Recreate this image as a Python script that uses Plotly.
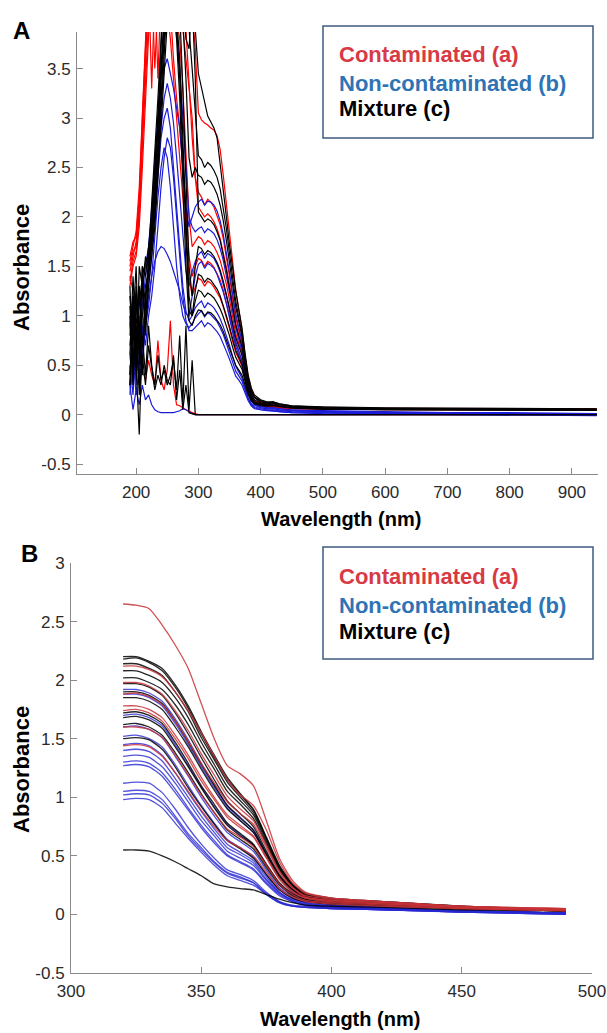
import plotly.graph_objects as go

W, H = 607, 1033

# ---------------- Panel A data ----------------
WL_A = [190, 195, 200, 205, 210, 215, 220, 225, 230, 235, 240, 245, 250, 255, 260, 265, 270, 275, 280, 285, 290, 295,
        300, 305, 310, 315, 320, 325, 330, 335, 340, 345, 350, 355, 360, 365, 370, 375, 380, 385, 390,
        400, 410, 420, 430, 450, 500, 600, 700, 800, 940]

RED_A_1 = [1.55, 1.70, 1.85, 2.30, 3.10, 3.80, 4.50, 4.60, 4.40, 4.50, 4.60, 4.50, 4.40, 4.60, 4.50, 4.50, 4.60, 4.50, 4.40, 4.30, 4.10, 3.70,
           3.05, 2.98, 2.95, 2.93, 2.90, 2.88, 2.82, 2.68, 2.42, 2.12, 1.82, 1.52, 1.26, 1.06, 0.86, 0.60, 0.38, 0.26, 0.18,
           0.12, 0.10, 0.10, 0.09, 0.08, 0.07, 0.065, 0.065, 0.06, 0.06]
RED_A_2 = [1.45, 1.60, 1.75, 2.10, 2.90, 3.60, 4.30, 4.50, 4.10, 4.40, 4.50, 4.60, 4.40, 4.50, 4.50, 4.30, 4.40, 4.20, 3.90, 3.30, 2.80, 2.40,
           2.25, 2.20, 2.12, 2.18, 2.15, 2.10, 2.02, 1.92, 1.78, 1.60, 1.40, 1.18, 0.98, 0.85, 0.72, 0.50, 0.30, 0.19, 0.14,
           0.11, 0.09, 0.09, 0.08, 0.07, 0.065, 0.06, 0.06, 0.06, 0.055]
RED_A_3 = [1.35, 1.55, 1.65, 2.00, 2.70, 3.40, 4.00, 4.40, 3.50, 4.20, 4.40, 4.50, 4.30, 4.40, 4.20, 4.00, 3.80, 3.30, 2.60, 2.00, 1.70, 1.75,
           1.80, 1.78, 1.72, 1.76, 1.74, 1.70, 1.64, 1.56, 1.45, 1.32, 1.16, 0.98, 0.82, 0.72, 0.62, 0.44, 0.27, 0.17, 0.12,
           0.10, 0.08, 0.08, 0.07, 0.065, 0.06, 0.055, 0.055, 0.05, 0.05]
RED_A_4 = [1.60, 1.75, 1.80, 2.20, 3.00, 3.70, 4.40, 3.30, 4.30, 4.50, 4.40, 4.30, 4.20, 4.10, 3.60, 3.20, 2.90, 2.50, 2.10, 1.60, 1.40, 1.50,
           1.58, 1.56, 1.50, 1.55, 1.53, 1.49, 1.43, 1.36, 1.26, 1.14, 1.00, 0.85, 0.72, 0.64, 0.55, 0.40, 0.25, 0.16, 0.11,
           0.09, 0.08, 0.08, 0.07, 0.06, 0.055, 0.05, 0.05, 0.05, 0.05]
RED_A_5 = [1.30, 1.50, 1.60, 1.90, 2.50, 3.30, 4.10, 4.50, 4.40, 3.40, 4.30, 4.40, 4.10, 3.80, 3.40, 3.00, 2.60, 2.20, 1.80, 1.40, 1.20, 1.30,
           1.38, 1.36, 1.30, 1.35, 1.33, 1.29, 1.24, 1.18, 1.09, 0.99, 0.87, 0.74, 0.63, 0.56, 0.49, 0.36, 0.23, 0.15, 0.11,
           0.09, 0.08, 0.075, 0.07, 0.06, 0.055, 0.05, 0.05, 0.05, 0.05]
RED_A_6 = [1.50, 1.65, 1.70, 2.05, 2.80, 3.60, 4.40, 4.50, 4.40, 4.60, 4.40, 4.50, 4.30, 4.60, 4.40, 4.50, 4.10, 3.90, 3.60, 3.30, 3.00, 2.40,
           2.10, 2.05, 2.00, 2.03, 2.00, 1.95, 1.88, 1.78, 1.65, 1.49, 1.31, 1.10, 0.92, 0.80, 0.68, 0.48, 0.29, 0.18, 0.13,
           0.11, 0.09, 0.09, 0.08, 0.07, 0.065, 0.06, 0.06, 0.06, 0.06]
RED_A_LOW = [1.40, 1.25, 0.90, 0.60, 0.45, 0.35, 0.55, 0.40, 0.30, 0.75, 0.35, 0.25, 0.45, 0.95, 0.30, 0.10, 0.09, 0.07, 0.05, 0.04, 0.02, 0.01,
             0, 0, 0, 0, 0, 0, 0, 0, 0, 0, 0, 0, 0, 0, 0, 0, 0, 0, 0,
             0, 0, 0, 0, 0, 0, 0, 0, 0, 0]

BLUE_A_1 = [0.90, 0.50, 1.20, 0.70, 1.10, 1.40, 1.60, 1.90, 2.30, 2.80, 3.20, 3.50, 3.60, 3.45, 3.30, 3.10, 2.90, 2.50, 2.10, 1.90, 2.00, 2.10,
            2.15, 2.18, 2.12, 2.16, 2.15, 2.12, 2.06, 1.96, 1.82, 1.64, 1.44, 1.22, 1.02, 0.88, 0.74, 0.52, 0.31, 0.19, 0.13,
            0.09, 0.07, 0.07, 0.06, 0.05, 0.04, 0.03, 0.02, 0.02, 0.01]
BLUE_A_2 = [0.40, 1.00, 0.60, 1.30, 0.80, 1.20, 1.50, 1.75, 2.10, 2.50, 2.90, 3.20, 3.35, 3.20, 2.95, 2.60, 2.20, 1.80, 1.45, 1.30, 1.45, 1.55,
            1.62, 1.65, 1.58, 1.63, 1.61, 1.58, 1.52, 1.44, 1.33, 1.20, 1.05, 0.89, 0.74, 0.64, 0.54, 0.38, 0.23, 0.14, 0.10,
            0.07, 0.06, 0.06, 0.05, 0.04, 0.03, 0.02, 0.02, 0.01, 0.01]
BLUE_A_3 = [0.20, 0.70, 0.30, 1.00, 0.50, 0.90, 1.20, 1.40, 1.55, 1.65, 1.70, 1.68, 1.62, 1.55, 1.45, 1.35, 1.25, 1.12, 1.02, 1.00, 1.20, 1.40,
            1.52, 1.55, 1.48, 1.53, 1.51, 1.48, 1.42, 1.34, 1.24, 1.12, 0.98, 0.83, 0.69, 0.60, 0.51, 0.36, 0.22, 0.14, 0.10,
            0.07, 0.06, 0.06, 0.05, 0.04, 0.03, 0.02, 0.01, 0.01, 0.0]
BLUE_A_4 = [0.60, 0.30, 0.90, 0.40, 0.70, 1.00, 1.30, 1.60, 2.00, 2.40, 2.80, 3.00, 3.10, 2.90, 2.50, 2.10, 1.70, 1.30, 1.05, 0.95, 1.00, 1.08,
            1.12, 1.15, 1.08, 1.13, 1.11, 1.08, 1.03, 0.97, 0.89, 0.80, 0.70, 0.59, 0.49, 0.43, 0.37, 0.27, 0.17, 0.11, 0.08,
            0.06, 0.05, 0.05, 0.04, 0.03, 0.02, 0.015, 0.01, 0.01, 0.0]
BLUE_A_5 = [0.50, 0.20, 0.80, 0.30, 0.60, 0.90, 1.10, 1.40, 1.80, 2.20, 2.50, 2.70, 2.60, 2.30, 1.90, 1.50, 1.20, 1.00, 0.92, 0.88, 0.92, 0.98,
            1.02, 1.05, 0.99, 1.03, 1.01, 0.98, 0.94, 0.88, 0.81, 0.72, 0.63, 0.53, 0.44, 0.39, 0.34, 0.25, 0.16, 0.10, 0.07,
            0.05, 0.04, 0.04, 0.03, 0.02, 0.015, 0.01, 0.01, 0.0, 0.0]
BLUE_A_6 = [0.30, 0.60, 0.20, 0.50, 0.90, 0.70, 1.00, 1.20, 1.50, 1.90, 2.30, 2.60, 2.80, 2.70, 2.40, 2.00, 1.60, 1.20, 0.95, 0.85, 0.85, 0.88,
            0.92, 0.95, 0.89, 0.93, 0.91, 0.88, 0.84, 0.79, 0.72, 0.64, 0.56, 0.47, 0.39, 0.35, 0.30, 0.22, 0.14, 0.09, 0.06,
            0.05, 0.04, 0.035, 0.03, 0.02, 0.01, 0.005, 0.0, 0.0, -0.01]
BLUE_A_7 = [0.70, 1.10, 0.40, 0.90, 1.30, 1.50, 1.70, 2.10, 2.60, 3.10, 3.50, 3.80, 4.10, 4.30, 4.20, 3.90, 3.50, 3.00, 2.40, 2.00, 1.90, 1.85,
            1.88, 1.90, 1.84, 1.88, 1.86, 1.83, 1.77, 1.68, 1.56, 1.41, 1.24, 1.05, 0.88, 0.76, 0.64, 0.45, 0.27, 0.16, 0.11,
            0.08, 0.07, 0.07, 0.06, 0.045, 0.03, 0.02, 0.02, 0.01, 0.01]
BLUE_A_LOW = [0.30, 0.05, 0.25, 0.10, 0.30, 0.15, 0.20, 0.10, 0.05, 0.03, 0.02, 0.02, 0.02, 0.02, 0.02, 0.03, 0.04, 0.06, 0.05, 0.03, 0.01, 0.0,
              0, 0, 0, 0, 0, 0, 0, 0, 0, 0, 0, 0, 0, 0, 0, 0, 0, 0, 0,
              0, 0, 0, 0, 0, 0, 0, 0, 0, 0]

BLACK_A_1 = [0.90, 1.20, 0.60, 1.10, 1.40, 1.55, 1.60, 2.10, 2.60, 3.20, 3.80, 4.50, 4.60, 4.50, 4.60, 4.50, 4.60, 4.40, 4.50, 4.60, 4.50, 3.90,
             3.45, 3.30, 3.18, 3.02, 2.96, 2.90, 2.80, 2.55, 2.28, 2.00, 1.72, 1.48, 1.25, 1.06, 0.88, 0.62, 0.40, 0.27, 0.20,
             0.15, 0.13, 0.13, 0.11, 0.09, 0.08, 0.07, 0.065, 0.06, 0.06]
BLACK_A_2 = [1.20, 0.70, 1.30, 0.80, 1.50, 1.40, 1.70, 2.00, 2.50, 3.00, 3.70, 4.40, 4.50, 4.60, 4.50, 4.40, 4.50, 4.30, 4.20, 3.90, 3.50, 3.00,
             2.62, 2.58, 2.50, 2.55, 2.52, 2.47, 2.40, 2.28, 2.10, 1.88, 1.63, 1.38, 1.15, 0.98, 0.82, 0.58, 0.36, 0.24, 0.18,
             0.14, 0.12, 0.13, 0.11, 0.09, 0.075, 0.065, 0.06, 0.06, 0.055]
BLACK_A_3 = [0.40, 1.00, 1.50, 0.50, 1.20, 1.60, 1.50, 1.90, 2.30, 2.90, 3.50, 4.20, 4.50, 4.40, 4.60, 4.50, 4.30, 4.00, 3.40, 2.60, 2.40, 2.50,
             2.42, 2.40, 2.33, 2.37, 2.35, 2.30, 2.23, 2.12, 1.96, 1.76, 1.54, 1.30, 1.09, 0.94, 0.79, 0.56, 0.35, 0.23, 0.17,
             0.13, 0.12, 0.12, 0.10, 0.085, 0.07, 0.06, 0.06, 0.055, 0.055]
BLACK_A_4 = [1.00, 0.30, 0.90, 1.30, 0.70, 1.10, 1.60, 1.80, 2.20, 2.70, 3.40, 4.00, 4.50, 4.40, 4.50, 4.30, 4.10, 3.30, 2.30, 1.50, 1.20, 1.50,
             1.70, 1.68, 1.62, 1.66, 1.64, 1.60, 1.54, 1.46, 1.35, 1.22, 1.08, 0.92, 0.78, 0.69, 0.60, 0.43, 0.27, 0.18, 0.13,
             0.11, 0.10, 0.11, 0.09, 0.075, 0.06, 0.055, 0.05, 0.05, 0.05]
BLACK_A_5 = [0.60, 1.40, 0.80, 0.30, 1.00, 1.30, 1.45, 1.75, 2.10, 2.60, 3.30, 3.90, 4.40, 4.50, 4.20, 4.00, 3.60, 2.80, 1.90, 1.20, 1.00, 1.25,
             1.42, 1.40, 1.34, 1.38, 1.36, 1.32, 1.27, 1.20, 1.11, 1.00, 0.89, 0.76, 0.65, 0.58, 0.51, 0.37, 0.24, 0.16, 0.12,
             0.10, 0.09, 0.10, 0.085, 0.07, 0.06, 0.05, 0.05, 0.05, 0.05]
BLACK_A_6 = [1.30, 0.50, 1.10, 0.90, 0.40, 1.20, 1.40, 1.70, 2.00, 2.50, 3.10, 3.70, 4.20, 4.40, 4.10, 3.80, 3.20, 2.40, 1.50, 0.95, 0.90, 1.00,
             1.06, 1.05, 1.00, 1.04, 1.03, 1.00, 0.96, 0.91, 0.84, 0.76, 0.68, 0.58, 0.50, 0.45, 0.40, 0.30, 0.20, 0.14, 0.11,
             0.09, 0.085, 0.09, 0.08, 0.065, 0.055, 0.05, 0.045, 0.045, 0.045]
BLACK_A_7 = [0.80, 1.10, 0.40, 1.50, 1.30, 0.90, 1.50, 1.90, 2.40, 3.00, 3.60, 4.30, 4.60, 4.50, 4.40, 4.60, 4.50, 4.20, 3.80, 3.70, 4.20, 3.40,
             2.05, 2.00, 1.95, 1.98, 1.96, 1.92, 1.85, 1.76, 1.62, 1.46, 1.28, 1.08, 0.91, 0.80, 0.69, 0.49, 0.31, 0.21, 0.15,
             0.12, 0.11, 0.12, 0.10, 0.08, 0.065, 0.06, 0.055, 0.05, 0.05]
BLACK_A_8 = [0.30, 0.90, 1.20, 0.60, 1.50, 0.80, 1.30, 1.60, 1.90, 2.40, 3.00, 3.60, 4.10, 4.50, 4.30, 3.90, 3.40, 2.60, 1.70, 1.05, 1.00, 1.15,
             1.26, 1.24, 1.19, 1.23, 1.21, 1.18, 1.13, 1.07, 0.99, 0.90, 0.80, 0.68, 0.58, 0.52, 0.46, 0.34, 0.22, 0.15, 0.11,
             0.10, 0.09, 0.095, 0.08, 0.07, 0.055, 0.05, 0.05, 0.045, 0.045]
BLACK_A_LOW_1 = [0.30, 1.20, 0.50, -0.20, 0.80, 0.40, 0.90, 0.50, 0.30, 0.60, 0.35, 0.45, 0.30, 0.40, 0.55, 0.25, 0.80, 0.10, 0.90, 0.05, 0.55, 0.0,
                 0, 0, 0, 0, 0, 0, 0, 0, 0, 0, 0, 0, 0, 0, 0, 0, 0, 0, 0,
                 0, 0, 0, 0, 0, 0, 0, 0, 0, 0]
BLACK_A_LOW_2 = [1.10, 0.40, 0.90, 0.20, 0.60, 0.30, 0.70, 0.45, 0.25, 0.40, 0.30, 0.50, 0.35, 0.30, 0.60, 0.15, 0.45, 0.05, 0.30, 0.02, 0.01, 0.0,
                 0, 0, 0, 0, 0, 0, 0, 0, 0, 0, 0, 0, 0, 0, 0, 0, 0, 0, 0,
                 0, 0, 0, 0, 0, 0, 0, 0, 0, 0]

RED_A = [RED_A_1, RED_A_2, RED_A_3, RED_A_4, RED_A_5, RED_A_6, RED_A_LOW]
BLUE_A = [BLUE_A_1, BLUE_A_2, BLUE_A_3, BLUE_A_4, BLUE_A_5, BLUE_A_6, BLUE_A_7, BLUE_A_LOW]
BLACK_A = [BLACK_A_1, BLACK_A_2, BLACK_A_3, BLACK_A_4, BLACK_A_5, BLACK_A_6, BLACK_A_7, BLACK_A_8,
           BLACK_A_LOW_1, BLACK_A_LOW_2]

# ---------------- Panel B data ----------------
WL_B = [320, 325, 330, 335, 340, 345, 350, 355, 360, 365, 370, 375, 380, 385, 390, 400, 420, 450, 490]

RED_B_1 = [2.65, 2.64, 2.61, 2.47, 2.30, 2.10, 1.80, 1.50, 1.27, 1.20, 1.10, 0.80, 0.48, 0.29, 0.19, 0.14, 0.11, 0.07, 0.05]
RED_B_2 = [2.12, 2.12, 2.09, 2.03, 1.90, 1.74, 1.55, 1.35, 1.15, 1.02, 0.93, 0.72, 0.45, 0.27, 0.18, 0.14, 0.11, 0.07, 0.05]
RED_B_3 = [1.98, 1.98, 1.95, 1.88, 1.74, 1.57, 1.37, 1.19, 1.01, 0.90, 0.80, 0.59, 0.37, 0.23, 0.16, 0.13, 0.10, 0.07, 0.04]
RED_B_4 = [1.78, 1.78, 1.75, 1.68, 1.53, 1.36, 1.17, 1.00, 0.85, 0.76, 0.67, 0.49, 0.31, 0.20, 0.14, 0.12, 0.09, 0.06, 0.04]
RED_B_5 = [1.74, 1.75, 1.72, 1.65, 1.50, 1.33, 1.14, 0.98, 0.83, 0.74, 0.66, 0.48, 0.30, 0.19, 0.14, 0.11, 0.09, 0.06, 0.04]
RED_B_6 = [1.60, 1.60, 1.58, 1.51, 1.36, 1.19, 1.02, 0.87, 0.73, 0.66, 0.58, 0.42, 0.26, 0.17, 0.12, 0.10, 0.08, 0.05, 0.03]
RED_B_7 = [1.44, 1.45, 1.43, 1.35, 1.21, 1.05, 0.89, 0.75, 0.63, 0.57, 0.50, 0.36, 0.22, 0.15, 0.11, 0.09, 0.07, 0.05, 0.03]
RED_B_8 = [1.88, 1.89, 1.86, 1.79, 1.65, 1.48, 1.29, 1.12, 0.96, 0.86, 0.77, 0.57, 0.36, 0.23, 0.15, 0.12, 0.10, 0.06, 0.04]

BLUE_B_1 = [1.92, 1.92, 1.89, 1.82, 1.67, 1.49, 1.29, 1.11, 0.93, 0.83, 0.72, 0.52, 0.32, 0.20, 0.13, 0.08, 0.06, 0.03, 0.01]
BLUE_B_2 = [1.88, 1.88, 1.85, 1.78, 1.63, 1.45, 1.26, 1.08, 0.91, 0.80, 0.70, 0.50, 0.31, 0.19, 0.12, 0.08, 0.06, 0.03, 0.01]
BLUE_B_3 = [1.60, 1.61, 1.58, 1.51, 1.35, 1.18, 1.00, 0.84, 0.70, 0.62, 0.54, 0.38, 0.23, 0.15, 0.10, 0.07, 0.05, 0.03, 0.01]
BLUE_B_4 = [1.52, 1.53, 1.50, 1.43, 1.28, 1.10, 0.93, 0.78, 0.64, 0.57, 0.49, 0.34, 0.21, 0.14, 0.10, 0.07, 0.05, 0.03, 0.01]
BLUE_B_5 = [1.45, 1.46, 1.44, 1.36, 1.21, 1.04, 0.88, 0.73, 0.60, 0.53, 0.46, 0.32, 0.19, 0.13, 0.10, 0.07, 0.05, 0.03, 0.01]
BLUE_B_6 = [1.35, 1.36, 1.34, 1.26, 1.12, 0.96, 0.80, 0.67, 0.54, 0.48, 0.42, 0.29, 0.18, 0.12, 0.09, 0.06, 0.05, 0.03, 0.01]
BLUE_B_7 = [1.30, 1.31, 1.29, 1.21, 1.07, 0.91, 0.76, 0.63, 0.51, 0.45, 0.39, 0.27, 0.17, 0.11, 0.08, 0.06, 0.05, 0.03, 0.01]
BLUE_B_8 = [1.27, 1.28, 1.26, 1.18, 1.04, 0.89, 0.74, 0.61, 0.50, 0.44, 0.38, 0.26, 0.16, 0.11, 0.08, 0.06, 0.05, 0.03, 0.01]
BLUE_B_9 = [1.12, 1.13, 1.12, 1.04, 0.90, 0.74, 0.60, 0.48, 0.38, 0.34, 0.29, 0.19, 0.11, 0.08, 0.07, 0.05, 0.04, 0.02, 0.01]
BLUE_B_10 = [1.05, 1.06, 1.05, 0.98, 0.84, 0.69, 0.57, 0.45, 0.36, 0.32, 0.27, 0.18, 0.11, 0.07, 0.06, 0.05, 0.04, 0.02, 0.0]
BLUE_B_11 = [1.02, 1.03, 1.02, 0.95, 0.82, 0.67, 0.55, 0.44, 0.35, 0.31, 0.27, 0.17, 0.10, 0.07, 0.06, 0.05, 0.04, 0.02, 0.0]
BLUE_B_12 = [0.98, 0.99, 0.98, 0.91, 0.78, 0.65, 0.53, 0.42, 0.33, 0.29, 0.25, 0.17, 0.10, 0.07, 0.06, 0.05, 0.04, 0.02, 0.0]
BLUE_B_13 = [1.70, 1.71, 1.68, 1.61, 1.45, 1.27, 1.09, 0.92, 0.77, 0.68, 0.59, 0.42, 0.26, 0.17, 0.12, 0.08, 0.06, 0.03, 0.01]
BLUE_B_14 = [1.40, 1.41, 1.39, 1.31, 1.16, 1.00, 0.84, 0.70, 0.57, 0.51, 0.44, 0.30, 0.19, 0.12, 0.09, 0.06, 0.05, 0.03, 0.01]

BLACK_B_1 = [2.20, 2.20, 2.16, 2.10, 1.96, 1.78, 1.56, 1.36, 1.17, 1.03, 0.90, 0.66, 0.42, 0.26, 0.18, 0.14, 0.11, 0.07, 0.04]
BLACK_B_2 = [2.18, 2.19, 2.15, 2.08, 1.94, 1.76, 1.54, 1.34, 1.15, 1.02, 0.89, 0.65, 0.41, 0.26, 0.17, 0.13, 0.11, 0.07, 0.04]
BLACK_B_3 = [2.14, 2.14, 2.10, 2.04, 1.90, 1.73, 1.51, 1.32, 1.13, 1.00, 0.87, 0.64, 0.40, 0.25, 0.17, 0.13, 0.10, 0.06, 0.04]
BLACK_B_4 = [2.08, 2.08, 2.04, 1.98, 1.85, 1.68, 1.47, 1.28, 1.09, 0.97, 0.85, 0.62, 0.39, 0.24, 0.16, 0.12, 0.10, 0.06, 0.04]
BLACK_B_5 = [2.02, 2.02, 1.98, 1.92, 1.79, 1.62, 1.42, 1.24, 1.05, 0.94, 0.82, 0.60, 0.38, 0.24, 0.16, 0.12, 0.10, 0.06, 0.03]
BLACK_B_6 = [1.97, 1.97, 1.94, 1.87, 1.72, 1.54, 1.34, 1.15, 0.97, 0.86, 0.75, 0.54, 0.34, 0.22, 0.15, 0.12, 0.09, 0.06, 0.03]
BLACK_B_7 = [1.90, 1.90, 1.87, 1.80, 1.65, 1.47, 1.28, 1.10, 0.93, 0.82, 0.72, 0.52, 0.33, 0.21, 0.15, 0.11, 0.09, 0.06, 0.03]
BLACK_B_8 = [1.85, 1.85, 1.82, 1.75, 1.60, 1.43, 1.24, 1.06, 0.90, 0.80, 0.70, 0.51, 0.32, 0.21, 0.14, 0.11, 0.09, 0.05, 0.03]
BLACK_B_9 = [1.72, 1.73, 1.70, 1.63, 1.47, 1.29, 1.10, 0.94, 0.78, 0.69, 0.60, 0.43, 0.27, 0.18, 0.13, 0.10, 0.08, 0.05, 0.03]
BLACK_B_10 = [1.68, 1.69, 1.66, 1.59, 1.43, 1.26, 1.08, 0.91, 0.76, 0.67, 0.59, 0.42, 0.26, 0.17, 0.12, 0.10, 0.08, 0.05, 0.03]
BLACK_B_11 = [1.62, 1.63, 1.60, 1.53, 1.38, 1.21, 1.03, 0.87, 0.72, 0.64, 0.56, 0.40, 0.25, 0.16, 0.12, 0.09, 0.08, 0.05, 0.03]
BLACK_B_12 = [1.50, 1.51, 1.49, 1.41, 1.26, 1.08, 0.92, 0.77, 0.63, 0.56, 0.48, 0.34, 0.21, 0.14, 0.11, 0.09, 0.07, 0.05, 0.03]
BLACK_B_13 = [0.55, 0.55, 0.54, 0.50, 0.45, 0.39, 0.33, 0.26, 0.235, 0.22, 0.21, 0.17, 0.13, 0.10, 0.08, 0.07, 0.06, 0.04, 0.03]

RED_B = [RED_B_1, RED_B_2, RED_B_3, RED_B_4, RED_B_5, RED_B_6, RED_B_7, RED_B_8]
BLUE_B = [BLUE_B_1, BLUE_B_2, BLUE_B_3, BLUE_B_4, BLUE_B_5, BLUE_B_6, BLUE_B_7, BLUE_B_8, BLUE_B_9,
          BLUE_B_10, BLUE_B_11, BLUE_B_12, BLUE_B_13, BLUE_B_14]
BLACK_B = [BLACK_B_1, BLACK_B_2, BLACK_B_3, BLACK_B_4, BLACK_B_5, BLACK_B_6, BLACK_B_7, BLACK_B_8,
           BLACK_B_9, BLACK_B_10, BLACK_B_11, BLACK_B_12, BLACK_B_13]

# ---------------- ticks / labels ----------------
XTICKS_A = [200, 300, 400, 500, 600, 700, 800, 900]
YTICKS_A = [-0.5, 0, 0.5, 1, 1.5, 2, 2.5, 3, 3.5]
YTEXT_A = ["-0.5", "0", "0.5", "1", "1.5", "2", "2.5", "3", "3.5"]
XTICKS_B = [300, 350, 400, 450, 500]
YTICKS_B = [-0.5, 0, 0.5, 1, 1.5, 2, 2.5, 3]
YTEXT_B = ["-0.5", "0", "0.5", "1", "1.5", "2", "2.5", "3"]
LEGEND_LABELS = ["Contaminated (a)", "Non-contaminated (b)", "Mixture (c)"]
LEGEND_COLORS = ["#d83a44", "#2e74b5", "#000000"]

for group in (RED_A, BLUE_A, BLACK_A):
    for c in group:
        assert len(c) == len(WL_A), len(c)
for group in (RED_B, BLUE_B, BLACK_B):
    for c in group:
        assert len(c) == len(WL_B), len(c)

fig = go.Figure()

def add(x, y, color, width, xa, ya):
    fig.add_trace(go.Scatter(x=x, y=y, mode="lines", line=dict(color=color, width=width),
                             xaxis=xa, yaxis=ya, showlegend=False, hoverinfo="skip"))

for c in RED_A:
    add(WL_A, c, "#ff0000", 1.2, "x", "y")
for c in BLUE_A:
    add(WL_A, c, "#1c1cd8", 1.2, "x", "y")
for c in BLACK_A:
    add(WL_A, c, "#000000", 1.2, "x", "y")

for group, col in ((BLUE_B, "rgba(40,40,210,0.8)"), (BLACK_B, "rgba(0,0,0,0.85)"), (RED_B, "rgba(200,50,55,0.85)")):
    for c in group:
        fig.add_trace(go.Scatter(x=WL_B, y=c, mode="lines",
                                 line=dict(color=col, width=1.3, shape="spline", smoothing=0.6),
                                 xaxis="x2", yaxis="y2", showlegend=False, hoverinfo="skip"))

def px(v):
    return v / W

def py(v):
    return 1 - v / H

FONT = "Liberation Sans, Arial, sans-serif"
tickfont = dict(family=FONT, size=17, color="#2a2a2a")
axis_common = dict(showline=True, linecolor="#8a8a8a", linewidth=1, ticks="inside", ticklen=6,
                   tickcolor="#8a8a8a", showgrid=False, zeroline=False, tickfont=tickfont, mirror=False,
                   automargin=False)

fig.update_layout(
    width=W, height=H, margin=dict(l=0, r=0, t=0, b=0, autoexpand=False),
    paper_bgcolor="white", plot_bgcolor="white",
    xaxis=dict(domain=[px(77), px(598)], range=[105, 942], anchor="y",
               tickvals=XTICKS_A, ticktext=[str(v) for v in XTICKS_A], ticklabelstandoff=3, **axis_common),
    yaxis=dict(domain=[py(474), py(32)], range=[-0.6, 3.87], anchor="x",
               tickvals=YTICKS_A, ticktext=YTEXT_A, ticklabelstandoff=2, **axis_common),
    xaxis2=dict(domain=[px(71), px(592)], range=[300, 500], anchor="y2",
                tickvals=XTICKS_B, ticktext=[str(v) for v in XTICKS_B], ticklabelstandoff=3, **axis_common),
    yaxis2=dict(domain=[py(973), py(563)], range=[-0.5, 3.0], anchor="x2",
                tickvals=YTICKS_B, ticktext=YTEXT_B, ticklabelstandoff=2, **axis_common),
)

ann = []
ann.append(dict(text="<b>A</b>", x=px(11), y=py(30), xref="paper", yref="paper", xanchor="left", yanchor="middle",
                showarrow=False, font=dict(family=FONT, size=24, color="#000")))
ann.append(dict(text="<b>B</b>", x=px(19), y=py(553), xref="paper", yref="paper", xanchor="left", yanchor="middle",
                showarrow=False, font=dict(family=FONT, size=24, color="#000")))
for (xx, yy) in [(21, 268), (21, 770)]:
    ann.append(dict(text="<b>Absorbance</b>", x=px(xx), y=py(yy), xref="paper", yref="paper", textangle=-90,
                    xanchor="center", yanchor="middle", showarrow=False,
                    font=dict(family=FONT, size=22, color="#000")))
for (xx, yy) in [(341, 519), (340, 1019)]:
    ann.append(dict(text="<b>Wavelength (nm)</b>", x=px(xx), y=py(yy), xref="paper", yref="paper",
                    xanchor="center", yanchor="middle", showarrow=False,
                    font=dict(family=FONT, size=20, color="#000")))

shapes = []
for (top, bottom, ys) in [(26, 138, [55, 83, 108]), (547, 659, [576, 605, 631])]:
    shapes.append(dict(type="rect", xref="paper", yref="paper", x0=px(323), x1=px(593), y0=py(bottom), y1=py(top),
                       line=dict(color="#3d5a80", width=1.5), fillcolor="rgba(0,0,0,0)"))
    for lab, col, yy in zip(LEGEND_LABELS, LEGEND_COLORS, ys):
        ann.append(dict(text="<b>" + lab + "</b>", x=px(337), y=py(yy), xref="paper", yref="paper",
                        xanchor="left", yanchor="middle", showarrow=False,
                        font=dict(family=FONT, size=22, color=col)))

fig.update_layout(annotations=ann, shapes=shapes)
fig.write_html("out.html", config={"displayModeBar": False},
               post_script="document.body.style.margin='0';document.body.style.padding='0';"
                           "document.documentElement.style.overflow='hidden';")
